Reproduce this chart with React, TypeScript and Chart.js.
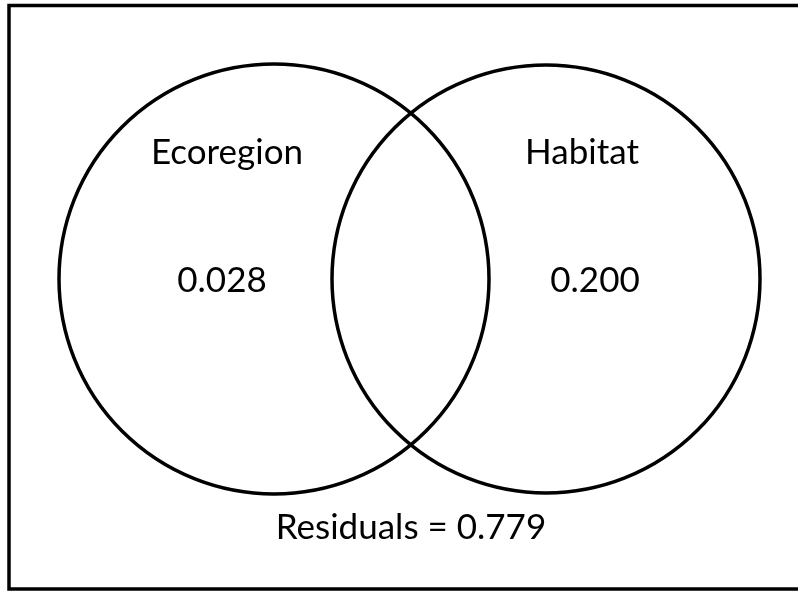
import React, { useEffect, useRef } from "react";
import { Chart, registerables, BubbleController } from "chart.js";

Chart.register(...registerables);

// Bubble controller that does not reserve layout padding for large radii,
// so the diagram coordinate space spans the whole canvas.
class VennController extends (BubbleController as any) {
  static id = "venn";
  getMaxOverflow() {
    return 0;
  }
}
Chart.register(VennController as any);

// Venn sets (positions in the diagram's own coordinate space)
const setNames = ["Ecoregion", "Habitat"];
const setValues = ["0.028", "0.200"];
const circleX = [274, 546];
const circleY = [279, 279];
const circleR = [215, 214];
const residualLabel = "Residuals = 0.779";

// label anchor points (diagram coordinates, text baselines)
const nameX = [227, 582];
const nameY = [164, 164];
const valueX = [222, 595];
const valueY = [292, 292];
const residualX = 411;
const residualY = 539;

// outer frame of the diagram
const frameX = [9, 801];
const frameY = [5.5, 589];

const W = 798;
const H = 592;

export default function App() {
  const ref = useRef<HTMLCanvasElement | null>(null);

  useEffect(() => {
    const canvas = ref.current;
    if (!canvas) return;

    const labelsPlugin = {
      id: "vennLabels",
      afterDatasetsDraw(chart: any) {
        const { ctx, scales } = chart;
        const xs = scales.x;
        const ys = scales.y;
        ctx.save();
        // frame
        ctx.strokeStyle = "#000";
        ctx.lineWidth = 3.5;
        const fx0 = xs.getPixelForValue(frameX[0]);
        const fx1 = xs.getPixelForValue(frameX[1]);
        const fy0 = ys.getPixelForValue(frameY[0]);
        const fy1 = ys.getPixelForValue(frameY[1]);
        ctx.strokeRect(fx0, fy0, fx1 - fx0, fy1 - fy0);
        // texts
        ctx.fillStyle = "#000";
        ctx.textAlign = "center";
        ctx.textBaseline = "alphabetic";
        ctx.font = "35px Lato, 'Open Sans', sans-serif";
        setNames.forEach((n, i) => {
          ctx.fillText(n, xs.getPixelForValue(nameX[i]), ys.getPixelForValue(nameY[i]));
        });
        setValues.forEach((v, i) => {
          ctx.fillText(v, xs.getPixelForValue(valueX[i]), ys.getPixelForValue(valueY[i]));
        });
        ctx.fillText(residualLabel, xs.getPixelForValue(residualX), ys.getPixelForValue(residualY));
        ctx.restore();
      },
    };

    const chart = new Chart(canvas, {
      type: "venn" as any,
      data: {
        datasets: [
          {
            label: "Sets",
            data: setNames.map((_, i) => ({ x: circleX[i], y: circleY[i], r: circleR[i] })),
            backgroundColor: "rgba(0,0,0,0)",
            borderColor: "#000",
            borderWidth: 3.5,
            hoverBorderWidth: 3.5,
            clip: false as any,
          },
        ],
      },
      options: {
        responsive: false,
        animation: false,
        devicePixelRatio: 1,
        layout: { padding: 0 },
        plugins: {
          legend: { display: false },
          tooltip: { enabled: false },
          title: { display: false },
        },
        events: [],
        scales: {
          x: { type: "linear", min: 0, max: W, display: false },
          y: { type: "linear", min: 0, max: H, reverse: true, display: false },
        },
      } as any,
      plugins: [labelsPlugin],
    });

    return () => chart.destroy();
  }, []);

  return (
    <div style={{ position: "absolute", left: 0, top: 0, width: W, height: H, background: "#fff" }}>
      <canvas ref={ref} width={W} height={H} style={{ display: "block" }} />
    </div>
  );
}
